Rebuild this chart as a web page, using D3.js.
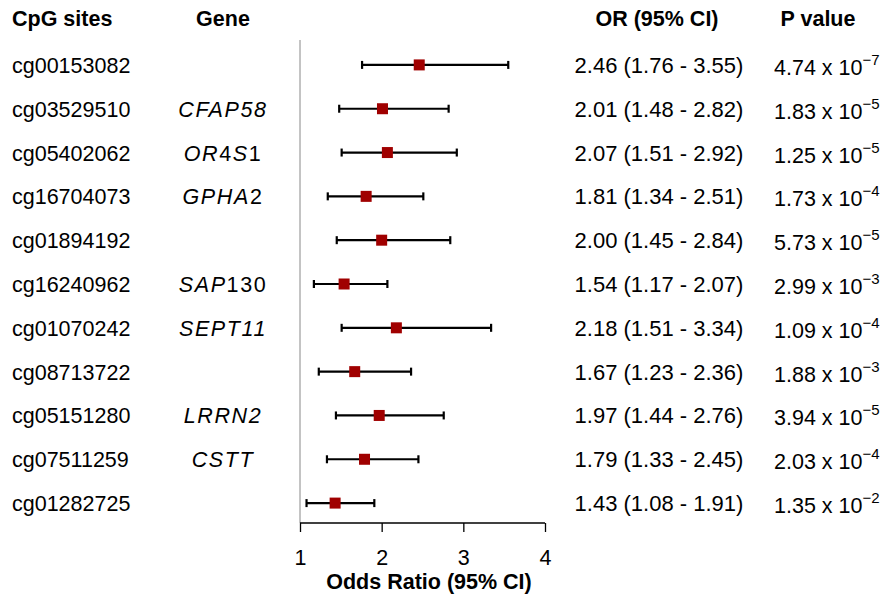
<!DOCTYPE html>
<html><head><meta charset="utf-8">
<script src="https://cdn.jsdelivr.net/npm/d3@7"></script>
<style>body{margin:0;background:#fff}svg{font-family:"Liberation Sans",Arial,sans-serif}</style>
</head><body><svg id="c" width="882" height="601"></svg>
<script>
const sites = ["cg00153082","cg03529510","cg05402062","cg16704073","cg01894192","cg16240962","cg01070242","cg08713722","cg05151280","cg07511259","cg01282725"];
// gene names as [text, italic] segments
const genes = [
  [],
  [["CFAP58",true]],
  [["OR",true],["4",false],["S",true],["1",false]],
  [["GPHA",true],["2",false]],
  [],
  [["SAP",true],["130",false]],
  [["SEPT11",true]],
  [],
  [["LRRN2",true]],
  [["CSTT",true]],
  []
];
const orVal = [2.46,2.01,2.07,1.81,2.00,1.54,2.18,1.67,1.97,1.79,1.43];
const lower = [1.76,1.48,1.51,1.34,1.45,1.17,1.51,1.23,1.44,1.33,1.08];
const upper = [3.55,2.82,2.92,2.51,2.84,2.07,3.34,2.36,2.76,2.45,1.91];
const pMant = ["4.74","1.83","1.25","1.73","5.73","2.99","1.09","1.88","3.94","2.03","1.35"];
const pExp = ["7","5","5","4","5","3","4","3","5","4","2"];
const xTicks = [1,2,3,4];

const svg = d3.select("#c");
const fs = 21.5;
const x = d3.scaleLinear().domain([1,4]).range([300,545]);
const y = d3.scaleBand().domain(d3.range(sites.length)).range([43,525]).paddingInner(0);

// headers
const hy = 26;
svg.append("text").attr("x",12).attr("y",hy).attr("font-size",fs).attr("font-weight","bold").text("CpG sites");
svg.append("text").attr("x",223).attr("y",hy).attr("text-anchor","middle").attr("font-size",fs).attr("font-weight","bold").text("Gene");
svg.append("text").attr("x",657).attr("y",hy).attr("text-anchor","middle").attr("font-size",fs).attr("font-weight","bold").text("OR (95% CI)");
svg.append("text").attr("x",818).attr("y",hy).attr("text-anchor","middle").attr("font-size",fs).attr("font-weight","bold").text("P value");

const cy = i => y(i) + y.bandwidth()/2;

// site labels
svg.append("g").selectAll("text").data(sites).join("text")
  .attr("x",12).attr("y",(d,i)=>cy(i)+8).attr("font-size",fs).text(d=>d);

// gene labels
const gg = svg.append("g").selectAll("text").data(genes).join("text")
  .attr("x",223).attr("y",(d,i)=>cy(i)+8).attr("font-size",fs).attr("text-anchor","middle")
  .attr("letter-spacing","1.6px");
gg.each(function(d){
  const t = d3.select(this);
  d.forEach(s=>t.append("tspan").attr("font-style",s[1]?"italic":"normal").text(s[0]));
});

// OR text
svg.append("g").selectAll("text").data(orVal).join("text")
  .attr("x",659).attr("y",(d,i)=>cy(i)+8).attr("font-size",22).attr("text-anchor","middle")
  .text((d,i)=>`${d.toFixed(2)} (${lower[i].toFixed(2)} - ${upper[i].toFixed(2)})`);

// P value
const pt = svg.append("g").selectAll("text").data(pMant).join("text")
  .attr("x",774).attr("y",(d,i)=>cy(i)+10).attr("font-size",fs);
pt.each(function(d,i){
  const t = d3.select(this);
  t.append("tspan").text(d+" x 10");
  t.append("tspan").attr("font-size",15).attr("dy",-10).text("\u2212"+pExp[i]);
});

// reference vertical line
svg.append("line").attr("x1",x(1)).attr("x2",x(1)).attr("y1",40).attr("y2",523)
  .attr("stroke","#888").attr("stroke-width",1);

// axis
const ax = svg.append("g").attr("transform","translate(0,523)")
  .call(d3.axisBottom(x).tickValues(xTicks).tickSize(9).tickPadding(18).tickFormat(d3.format("d")));
ax.select(".domain").attr("stroke","#000").attr("stroke-width",1.3).attr("d",`M${x(1)},0H${x(4)}`);
ax.selectAll(".tick line").attr("stroke","#000").attr("stroke-width",1.3);
ax.selectAll(".tick text").attr("font-size",fs).attr("font-family","Liberation Sans, Arial, sans-serif").attr("fill","#000");
svg.append("text").attr("x",429).attr("y",589).attr("text-anchor","middle").attr("font-size",fs).attr("font-weight","bold").text("Odds Ratio (95% CI)");

// CI lines
const g = svg.append("g");
g.selectAll(".ci").data(orVal).join("line")
  .attr("x1",(d,i)=>x(lower[i])).attr("x2",(d,i)=>x(upper[i]))
  .attr("y1",(d,i)=>cy(i)).attr("y2",(d,i)=>cy(i))
  .attr("stroke","#000").attr("stroke-width",2.2);
g.selectAll(".capl").data(orVal).join("line")
  .attr("x1",(d,i)=>x(lower[i])).attr("x2",(d,i)=>x(lower[i]))
  .attr("y1",(d,i)=>cy(i)-4).attr("y2",(d,i)=>cy(i)+4)
  .attr("stroke","#000").attr("stroke-width",2.2);
g.selectAll(".capu").data(orVal).join("line")
  .attr("x1",(d,i)=>x(upper[i])).attr("x2",(d,i)=>x(upper[i]))
  .attr("y1",(d,i)=>cy(i)-4).attr("y2",(d,i)=>cy(i)+4)
  .attr("stroke","#000").attr("stroke-width",2.2);
g.selectAll("rect").data(orVal).join("rect")
  .attr("x",d=>x(d)-5.5).attr("y",(d,i)=>cy(i)-5.5).attr("width",11).attr("height",11)
  .attr("fill","#a00000");
</script></body></html>
